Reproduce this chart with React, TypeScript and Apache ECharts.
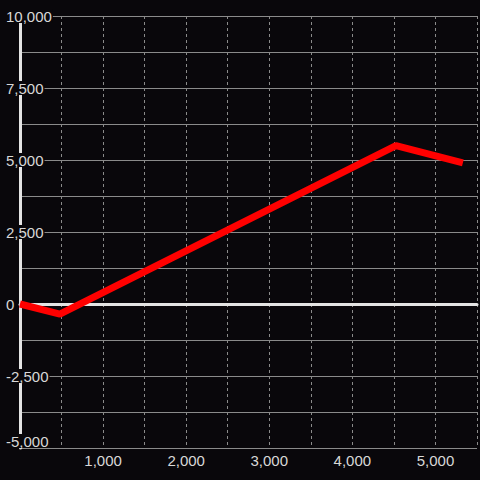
import React, { useEffect, useRef } from "react";
import * as echarts from "echarts";

const xValues = [0, 480, 4525, 5330];
const yValues = [0, -350, 5500, 4900];
const xRange = [0, 5500];
const yRange = [-5000, 10000];

const BG = "#09070b";
const LABEL = "#d8d8d8";
const GRID = "#8a8a8a";
const AXIS = "#e4e4e4";
const FONT = "'Liberation Sans', Arial, sans-serif";

const fmt = (v: number) => v.toLocaleString("en-US");

export default function App() {
  const ref = useRef<HTMLDivElement>(null);
  useEffect(() => {
    if (!ref.current) return;
    const chart = echarts.init(ref.current, undefined, { renderer: "svg" });
    chart.setOption({
      animation: false,
      backgroundColor: BG,
      grid: { left: 20, right: 0, top: 16, bottom: 32, containLabel: false },
      xAxis: [
        {
          type: "value",
          min: xRange[0],
          max: xRange[1],
          interval: 500,
          position: "bottom",
          axisLine: { show: false, onZero: false },
          axisTick: { show: false },
          axisLabel: {
            color: LABEL,
            fontFamily: FONT,
            fontSize: 15,
            lineHeight: 15,
            margin: 5,
            formatter: (v: number) => (v !== 0 && v % 1000 === 0 ? fmt(v) : ""),
          },
          splitLine: { show: true, lineStyle: { color: GRID, type: [3, 3], width: 1 } },
        },
        {
          type: "value",
          min: xRange[0],
          max: xRange[1],
          position: "top",
          axisLine: { show: true, onZero: true, lineStyle: { color: AXIS, width: 3 } },
          axisTick: { show: false },
          axisLabel: { show: false },
          splitLine: { show: false },
        },
      ],
      yAxis: {
        type: "value",
        min: yRange[0],
        max: yRange[1],
        interval: 2500,
        position: "left",
        axisLine: { show: true, onZero: false, lineStyle: { color: AXIS, width: 3 } },
        axisTick: { show: false },
        axisLabel: {
          color: LABEL,
          fontFamily: FONT,
          fontSize: 15,
          margin: 16,
          align: "left",
          backgroundColor: BG,
          padding: [0, 1, 0, 2],
          lineHeight: 14,
          verticalAlignMinLabel: "bottom",
          formatter: (v: number) => fmt(v),
        },
        splitLine: { show: true, lineStyle: { color: GRID, width: 1 } },
        minorTick: { show: false, splitNumber: 2 },
        minorSplitLine: { show: true, lineStyle: { color: GRID, width: 1 } },
      },
      series: [
        {
          type: "line",
          xAxisIndex: 0,
          data: xValues.map((x, i) => [x, yValues[i]]),
          showSymbol: false,
          symbol: "none",
          lineStyle: { color: "#ff0000", width: 7, cap: "butt" },
          z: 5,
        },
      ],
    });
    return () => chart.dispose();
  }, []);
  return (
    <div
      ref={ref}
      style={{ position: "fixed", left: 0, top: 0, width: 480, height: 480 }}
    />
  );
}
